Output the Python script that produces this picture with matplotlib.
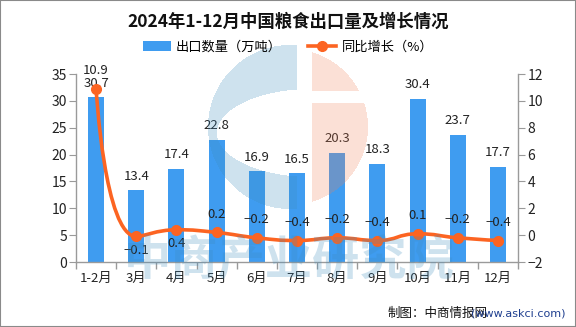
import numpy as np
import matplotlib
matplotlib.use("Agg")
import matplotlib.pyplot as plt
from matplotlib.path import Path
from matplotlib.patches import PathPatch, Rectangle, Patch
from matplotlib.lines import Line2D

plt.rcParams['font.family'] = ['Noto Sans CJK SC', 'DejaVu Sans']

# 2024年粮食出口数据
months = ['1-2月', '3月', '4月', '5月', '6月', '7月', '8月', '9月', '10月', '11月', '12月']
export_volume = [30.7, 13.4, 17.4, 22.8, 16.9, 16.5, 20.3, 18.3, 30.4, 23.7, 17.7]
yoy_growth = [10.9, -0.1, 0.4, 0.2, -0.2, -0.4, -0.2, -0.4, 0.1, -0.2, -0.4]

BAR_COLOR = '#3f9cf0'
LINE_COLOR = '#fc6422'
AXIS_COLOR = '#9a9a9a'
TEXT_COLOR = '#222222'
W, H = 576, 327


def smooth_path(axis, xs, ys, smooth=0.5):
    # bezier smoothing in screen space, control points clamped to neighbours
    pts = axis.transData.transform(np.column_stack([xs, ys]))
    n = len(pts)
    verts = [pts[0]]
    codes = [Path.MOVETO]
    cp0 = pts[0]
    for i in range(1, n):
        p = pts[i]
        if i < n - 1:
            prev, nxt = pts[i - 1], pts[i + 1]
            v = nxt - prev
            len_prev = np.hypot(*(p - prev))
            len_next = np.hypot(*(nxt - p))
            ratio = len_next / (len_next + len_prev)
            ncp = p + v * smooth * ratio
            ncp = np.clip(ncp, np.minimum(p, nxt), np.maximum(p, nxt))
            v = ncp - p
            cp1 = p - v * len_prev / len_next
            cp1 = np.clip(cp1, np.minimum(prev, p), np.maximum(prev, p))
            v = p - cp1
            ncp = p + v * len_next / len_prev
        else:
            cp1 = p
            ncp = p
        verts += [cp0, cp1, p]
        codes += [Path.CURVE4] * 3
        cp0 = ncp
    verts = axis.transData.inverted().transform(np.array(verts))
    return Path(verts, codes)


fig = plt.figure(figsize=(W / 100, H / 100), dpi=100)
ax = fig.add_axes([76 / W, 1 - 262 / H, 442 / W, 188 / H])
ax2 = ax.twinx()

x = np.arange(len(months))

# bars: export volume
ax.bar(x, export_volume, width=0.4, color=BAR_COLOR, zorder=2)
ax.set_xlim(-0.5, len(months) - 0.5)
ax.set_ylim(0, 35)
ax.set_yticks(np.arange(0, 36, 5))
ax.set_xticks(x)
ax.set_xticklabels(months)
ax.set_xticks(np.arange(-0.5, len(months)), minor=True)
ax.tick_params(axis='x', which='major', length=0, pad=7, labelsize=9.5, labelcolor=TEXT_COLOR)
ax.tick_params(axis='x', which='minor', length=5, color=AXIS_COLOR, width=1)
ax.tick_params(axis='y', length=5, pad=1.5, color=AXIS_COLOR, labelsize=10, labelcolor=TEXT_COLOR)

for v, xi in zip(export_volume, x):
    ax.annotate(f'{v}', (xi, v), xytext=(0, 14), textcoords='offset pixels',
                ha='center', va='center', fontsize=9.5, color=TEXT_COLOR, zorder=6)

# line: year-on-year growth
ax2.set_ylim(-2, 12)
ax2.set_yticks(np.arange(-2, 13, 2))
ax2.tick_params(axis='y', length=5, pad=2, color=AXIS_COLOR, labelsize=10, labelcolor=TEXT_COLOR)
ax2.add_patch(PathPatch(smooth_path(ax2, x, yoy_growth), fill=False,
                        edgecolor=LINE_COLOR, lw=2.6, zorder=3))
ax2.plot(x, yoy_growth, 'o', color=LINE_COLOR, ms=7, zorder=4)

below = {1, 2}
for i, (v, xi) in enumerate(zip(yoy_growth, x)):
    dy = -14 if i in below else 18
    ax2.annotate(f'{v}'.replace('-', '\u2212'), (xi, v), xytext=(0, dy),
                 textcoords='offset pixels', ha='center', va='center',
                 fontsize=9.5, color=TEXT_COLOR, zorder=6)

for a in (ax, ax2):
    a.spines['top'].set_visible(False)
    for s in ('left', 'right', 'bottom'):
        a.spines[s].set_color(AXIS_COLOR)
        a.spines[s].set_linewidth(1)
ax.spines['right'].set_visible(False)
ax2.spines['left'].set_visible(False)
ax2.spines['bottom'].set_visible(False)

# title and legend
fig.text(0.5, 1 - 22 / H, '2024年1-12月中国粮食出口量及增长情况', ha='center', va='center',
         fontsize=12.5, fontweight='bold', color='#111111')
handles = [Patch(facecolor=BAR_COLOR, edgecolor='none'),
           Line2D([], [], color=LINE_COLOR, lw=2.6, marker='o', ms=7)]
fig.legend(handles, ['出口数量（万吨）', '同比增长（%）'], loc='center',
           bbox_to_anchor=(0.5, 1 - 47 / H), ncol=2, frameon=False, fontsize=9.5,
           handlelength=2.1, handleheight=0.8, handletextpad=0.4, columnspacing=2.0)

# source note
fig.text(388 / W, 1 - 313 / H, '制图：中商情报网', ha='left', va='center',
         fontsize=9, color='#111111')
fig.text(566 / W, 1 - 313 / H, '(www.askci.com)', ha='right', va='center',
         fontsize=8, color='#1f3f8f', family='DejaVu Sans')

# watermark overlay: logo and company name
wm = fig.add_axes([0, 0, 1, 1], zorder=4)
wm.set_xlim(0, W)
wm.set_ylim(H, 0)
wm.axis('off')
gx, gy = np.meshgrid(np.arange(W) + 0.5, np.arange(H) + 0.5)
r = np.hypot(gx - 290, gy - 127)
salmon = (r < 78) & (gx > 312) & ~((gy > 91) & (gy < 103))
hole = ((gx - 312) / 95) ** 2 + ((gy - 133) / 44) ** 2 < 1
blue = (r < 82) & (gx < 297) & ~hole
img = np.zeros((H, W, 4))
img[blue] = [60 / 255, 140 / 255, 190 / 255, 0.25]
img[salmon] = [240 / 255, 130 / 255, 90 / 255, 0.25]
wm.imshow(img, extent=(0, W, H, 0), interpolation='bilinear', aspect='auto')
wm.text(289, 260, '中商产业研究院', ha='center', va='center', fontsize=34,
        fontweight='bold', color=(60 / 255, 140 / 255, 190 / 255), alpha=0.25)

fig.add_artist(Rectangle((0, 0), 1, 1, transform=fig.transFigure, fill=False,
                         edgecolor='#8a8a8a', lw=1.5))

fig.savefig('out.png', dpi=100)
